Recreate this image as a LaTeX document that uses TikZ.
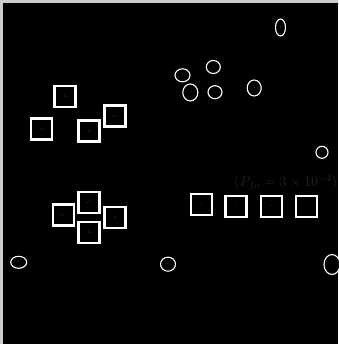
\documentclass[tikz,border=0pt]{standalone}
\usetikzlibrary{shapes.geometric}
\begin{document}
\begin{tikzpicture}[x=1pt,y=-1pt,
  sq/.style={draw=white,line width=2.2pt,minimum size=21pt,inner sep=0pt,fill=black,
    text=white!85!black,font=\fontsize{3}{3}\selectfont},
  el/.style={draw=white,line width=1.1pt,ellipse,inner sep=0pt,fill=black,
    text=white!85!black,font=\fontsize{2.5}{3}\selectfont},
  faint/.style={text=white!14!black,font=\fontsize{14}{16}\selectfont,inner sep=0pt,anchor=base west}]
\useasboundingbox (0,0) rectangle (338,344);
\fill[white!80!black] (0,0) rectangle (338,344);
\fill[black] (2.5,3) rectangle (338,344);
% faint label
\node[faint] (pfa) at (234,186.5) {$(P_{fa}=3\times10^{-4})$};
% top-left group of squares
\node[sq] (a1) at (65,96.7) {$\cdot$-};
\node[sq] (a2) at (41.7,129) {-$\cdot$};
\node[sq] (a3) at (89,131) {$\cdot$-};
\node[sq] (a4) at (115,116) {-$\cdot$};
% bottom-left group
\node[sq] (b1) at (89,202.3) {-$\cdot$};
\node[sq] (b2) at (63.3,215) {-$\cdot$};
\node[sq] (b3) at (115,217.3) {$\cdot$-};
\node[sq] (b4) at (89,232.3) {$\cdot$-};
% row of squares
\node[sq] (c1) at (201.3,204.2) {$\cdot$};
\node[sq] (c2) at (236,206.7) {$\cdot$};
\node[sq] (c3) at (271.7,206.7) {$\cdot$};
\node[sq] (c4) at (306.7,206.7) {$\cdot$};
% ellipses
\node[el,minimum width=15pt,minimum height=13pt] (e1) at (182.5,75.3) {$\cdot$};
\node[el,minimum width=14pt,minimum height=13pt] (e2) at (213.3,67) {$\cdot$};
\node[el,minimum width=15pt,minimum height=17pt] (e3) at (190.3,92.5) {$\cdot$};
\node[el,minimum width=14pt,minimum height=13pt] (e4) at (215,92.2) {$\cdot$};
\node[el,minimum width=14pt,minimum height=16pt] (e5) at (254.2,88) {$\cdot$};
\node[el,minimum width=10pt,minimum height=17pt] (e6) at (280.5,27.5) {$\cdot$};
\node[el,minimum width=12pt,minimum height=12pt] (e7) at (322,152.3) {$\cdot$};
\node[el,minimum width=16pt,minimum height=12pt] (e8) at (18.7,262.3) {$\cdot$};
\node[el,minimum width=15pt,minimum height=14pt] (e9) at (168,264.2) {$\cdot$};
\node[el,minimum width=16pt,minimum height=20pt] (e10) at (332,264.5) {$\cdot$};
\end{tikzpicture}
\end{document}
